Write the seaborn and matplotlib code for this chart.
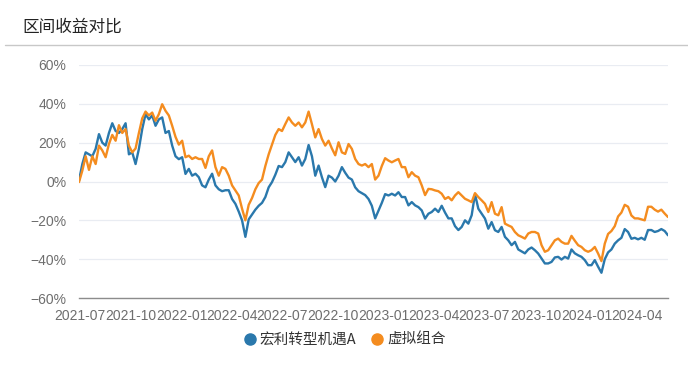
import numpy as np
import pandas as pd
import matplotlib
matplotlib.use("Agg")
import matplotlib.pyplot as plt
import matplotlib.dates as mdates
from matplotlib.lines import Line2D
import seaborn as sns

# ---------------- data ----------------
START_DATE = "2021-06-30"
STEP = "6D"
series_names = ["宏利转型机遇A", "虚拟组合"]
title_text = "区间收益对比"

fund_a = [
    0.5, 9, 15, 14, 13, 16.8, 24.4, 20, 18.5, 25,
    30, 26, 25, 27, 30, 14, 15, 9, 16.8, 27,
    34.7, 32, 34, 28.7, 32, 33, 25, 26, 18.5, 13,
    11.5, 12.5, 3.9, 6.5, 3, 4, 2.2, -2, -3, 1,
    4, -2, -4, -5, -4.5, -4.5, -9, -11.5, -15.5, -20,
    -28.5, -19.5, -17, -14.5, -12.5, -11, -8, -3, -0.3, 3.5,
    8, 7.4, 10, 15, 12.5, 10, 12.5, 8.2, 11.6, 18.8,
    13, 3, 8.2, 2.2, -2.9, 3, 2, 0, 3, 7.4,
    4.5, 2, 1, -3, -5, -6, -7, -9, -12.5, -19,
    -15, -11, -6.5, -7.2, -6.3, -7.2, -5.5, -8, -8, -12.3,
    -10.6, -12.3, -13.2, -14.9, -19.1, -16.6, -15.7, -14, -15.7, -12.5,
    -16, -19, -19, -23, -25, -23.4, -20, -21.7, -17.4, -6.5,
    -14, -16.6, -19.1, -24.3, -20.9, -25.1, -26, -23.4, -28.5, -30.3,
    -32.8, -31.1, -35, -36, -37, -35, -34, -35.4, -37.1, -39.7,
    -42.2, -42.2, -41.4, -39.1, -38.8, -40.2, -38.8, -39.7, -35, -37,
    -38, -38.8, -40.5, -43.1, -43.1, -40.5, -43.9, -47, -40, -36.5,
    -35, -32, -30.3, -29, -24.5, -26, -29.5, -29, -29.8, -29,
    -30, -25, -25, -26, -25.5, -24.5, -25.5, -27.7,
]

virtual = [
    -0.3, 5.6, 13, 6, 13, 9, 18.5, 16, 12.5, 19.3,
    24, 21, 29, 25, 27, 18.5, 15, 17, 25, 32.5,
    36, 34, 35.5, 31.3, 34.7, 39.8, 36.4, 34, 28.7, 23,
    19, 21, 12.5, 13.3, 11.6, 12.5, 11.6, 11.6, 7, 13,
    16, 7.4, 3, 7.4, 6.5, 3, -2, -4.6, -7.2, -14,
    -20, -12, -8.5, -4, -0.8, 1, 8, 14, 19, 24,
    27, 26, 29.6, 33, 30.4, 28.7, 30.4, 27.9, 30.4, 36,
    29.5, 22.7, 27, 21.9, 18.5, 21, 17, 13.5, 20.2, 15,
    14.2, 19.3, 16.8, 11.6, 9, 8.2, 9, 7.4, 9, 1,
    3, 8, 12, 10.8, 9.9, 10.8, 11.6, 7.4, 7.4, 2.2,
    4.8, 3, 2.2, -2, -7, -3.8, -4, -4.6, -5, -6.3,
    -9, -8, -9.7, -7.2, -5.5, -7.2, -8.9, -9.7, -10.6, -6,
    -8, -9.7, -11.5, -15.7, -10.6, -16.6, -17.4, -13.2, -21.7, -22.6,
    -23.4, -26, -27.7, -28.5, -29.4, -26.8, -26, -26, -26.8, -32.8,
    -36.2, -35.4, -32.8, -30.3, -29.4, -31.1, -32, -32, -28, -30.5,
    -32.8, -33.7, -35.4, -36.2, -35.4, -33.7, -37.1, -41, -32, -27,
    -25.5, -23, -18, -16, -12, -13, -17.5, -19, -19, -19.5,
    -20, -13, -13, -14.5, -15.5, -14.5, -16.5, -18.3,
]

y_ticks = [-60, -40, -20, 0, 20, 40, 60]
colors = ["#2A78AC", "#F48C1F"]

# ---------------- build ----------------
dates = pd.date_range(START_DATE, periods=len(fund_a), freq=STEP)
df = pd.DataFrame({
    "date": np.concatenate([dates, dates]),
    "value": fund_a + virtual,
    "series": [series_names[0]] * len(fund_a) + [series_names[1]] * len(virtual),
})

sns.set_theme(style="white")
plt.rcParams["font.family"] = ["Liberation Sans", "Noto Sans CJK SC", "DejaVu Sans"]
plt.rcParams["axes.unicode_minus"] = True

W, H = 688, 365
fig = plt.figure(figsize=(W / 100, H / 100), dpi=100)
ax = fig.add_axes([79 / W, 1 - 298 / H, (668 - 79) / W, (298 - 65) / H])

sns.lineplot(data=df, x="date", y="value", hue="series",
             palette=dict(zip(series_names, colors)),
             linewidth=1.7, legend=False, ax=ax, zorder=3)

ax.set_xlim(dates[0], dates[-1])
ax.set_ylim(-60, 60)
ax.set_yticks(y_ticks)
ax.set_yticklabels([f"{v}%".replace("-", "\u2212") for v in y_ticks])
ax.xaxis.set_major_locator(mdates.MonthLocator(bymonth=[1, 4, 7, 10]))
ax.xaxis.set_major_formatter(mdates.DateFormatter("%Y-%m"))
ax.set_xlabel("")
ax.set_ylabel("")

ax.grid(axis="y", color="#E9ECF2", linewidth=0.9)
ax.grid(axis="x", visible=False)
for s in ["top", "right", "left"]:
    ax.spines[s].set_visible(False)
ax.spines["bottom"].set_color("#8C8C8C")
ax.spines["bottom"].set_linewidth(1.0)
ax.tick_params(axis="x", length=5, width=1, color="#8C8C8C", pad=3,
               labelsize=10, labelcolor="#6E6E6E")
ax.tick_params(axis="y", length=0, pad=9, labelsize=10, labelcolor="#6E6E6E")

# title + separator
fig.text(22 / W, 1 - 27 / H, title_text, fontsize=12, va="center", ha="left",
         color="#222222", family=["Noto Sans CJK SC", "DejaVu Sans"])
fig.add_artist(Line2D([5 / W, 1.0], [1 - 44.5 / H] * 2, color="#C8C8C8",
                      linewidth=1.0, transform=fig.transFigure))

# legend
handles = [Line2D([0], [0], marker="o", linestyle="none", markersize=8,
                  markerfacecolor=c, markeredgecolor=c) for c in colors]
leg = fig.legend(handles, series_names, loc="center", bbox_to_anchor=(0.5, 1 - 340 / H),
                 ncol=2, frameon=False, handletextpad=0.2, columnspacing=0.9,
                 handlelength=1.0,
                 prop={"family": ["Noto Sans CJK SC", "DejaVu Sans"], "size": 10.5})
for t in leg.get_texts():
    t.set_color("#333333")

fig.savefig("out.png", dpi=100)
